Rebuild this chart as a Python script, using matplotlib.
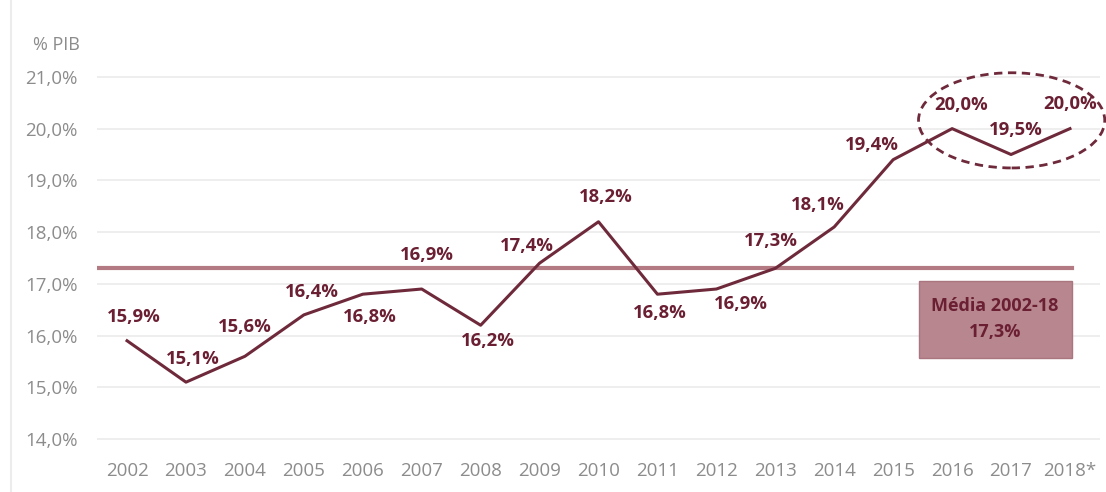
import matplotlib.pyplot as plt
from matplotlib.patches import Ellipse, Rectangle
from matplotlib.lines import Line2D

years = list(range(2002, 2019))
year_labels = [str(y) for y in years[:-1]] + ["2018*"]
pib = [15.9, 15.1, 15.6, 16.4, 16.8, 16.9, 16.2, 17.4, 18.2,
       16.8, 16.9, 17.3, 18.1, 19.4, 20.0, 19.5, 20.0]
media = 17.3
yticks = [14, 15, 16, 17, 18, 19, 20, 21]

# label offsets in pixels (dx, dy), placed by hand
offsets = [(7, 24), (7, 23), (0, 29), (8, 23), (7, -23), (5, 34), (7, -16),
           (-13, 17), (7, 25), (2, -19), (25, -15), (-4, 27), (-16, 22),
           (-21, 15), (9, 24), (5, 24), (0, 25)]

wine = "#6e2a3b"
rose = "#b47a84"
label_col = "#6a1f33"
grey = "#8c8c8c"

plt.rcParams["font.family"] = ["Open Sans", "DejaVu Sans"]

fig = plt.figure(figsize=(11.06, 4.92), dpi=100)
ax = fig.add_axes([0.0877, 0.0813, 0.9069, 0.8476])

for t in yticks:
    ax.axhline(t, color="#ebebeb", lw=1.2, zorder=0)

ax.plot(years, pib, color=wine, lw=2.2, zorder=3)
ax.plot([2001.5, 2018.03], [media, media], color=rose, lw=3, zorder=2)

for x, v, (dx, dy) in zip(years, pib, offsets):
    ax.annotate(f"{v:.1f}%".replace(".", ","), (x, v), xytext=(dx, dy),
                textcoords="offset pixels", ha="center", va="center",
                fontsize=13.3, fontweight="bold", color=label_col, zorder=4)

# average box
ax.add_patch(Rectangle((2015.43, 15.56), 2.6, 1.49, facecolor="#b8868e",
                       edgecolor="#a97680", lw=1, zorder=2))
ax.text(2016.73, 16.57, "Média 2002-18", ha="center", va="center",
        fontsize=13, fontweight="bold", color=label_col, zorder=4)
ax.text(2016.73, 16.06, f"{media:.1f}%".replace(".", ","), ha="center",
        va="center", fontsize=13, fontweight="bold", color=label_col, zorder=4)

ax.add_patch(Ellipse((2017.01, 20.16), 3.16, 1.84, fill=False, edgecolor=wine,
                     lw=2, linestyle=(0, (3, 2)), clip_on=False, zorder=3))

ax.set_xlim(2001.49, 2018.51)
ax.set_ylim(13.75, 21.81)
ax.set_xticks(years)
ax.set_xticklabels(year_labels)
ax.set_yticks(yticks)
ax.set_yticklabels([f"{t:.1f}%".replace(".", ",") for t in yticks])
ax.tick_params(length=0, labelsize=13.5, colors=grey)
ax.tick_params(axis="y", pad=14)
ax.tick_params(axis="x", pad=7)
for s in ax.spines.values():
    s.set_visible(False)

fig.text(33 / 1106, 1 - 45 / 492, "% PIB", ha="left", va="center",
         fontsize=13, color=grey)
fig.add_artist(Line2D([11 / 1106, 11 / 1106], [0, 1], color="#ececec", lw=1.5))

fig.savefig("out.png", dpi=100)
